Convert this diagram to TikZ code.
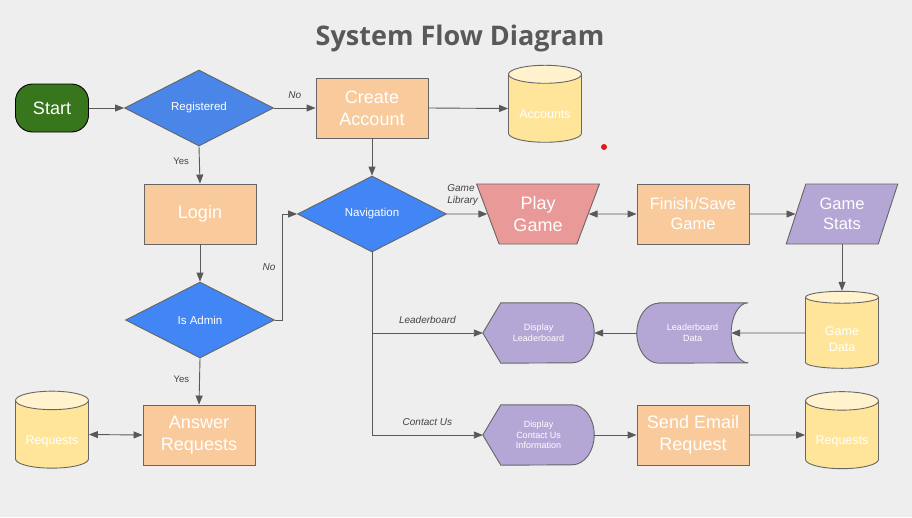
\documentclass[tikz,border=0pt]{standalone}
\usepackage{fontspec}
\setmainfont{Liberation Sans}
\newfontfamily\titlefont{Open Sans}
\usetikzlibrary{arrows.meta,shapes.geometric,backgrounds}

\definecolor{bgcol}{HTML}{EEEEEE}
\definecolor{startgreen}{HTML}{38761D}
\definecolor{regblue}{HTML}{4A86E8}
\definecolor{navblue}{HTML}{4285F4}
\definecolor{peach}{HTML}{F9CB9C}
\definecolor{dbyellow}{HTML}{FFE599}
\definecolor{dbtop}{HTML}{FFF2CC}
\definecolor{rose}{HTML}{EA9999}
\definecolor{lilac}{HTML}{B4A7D6}
\definecolor{edgecol}{HTML}{666666}
\definecolor{arrowcol}{HTML}{595959}
\definecolor{labelcol}{HTML}{434343}
\definecolor{titlecol}{HTML}{595959}
\definecolor{dotred}{HTML}{E8161B}

\begin{document}
\begin{tikzpicture}[x=1pt, y=-1pt,
  shapebase/.style={draw=edgecol, line width=0.9pt, text=white, align=center, inner sep=0pt},
  termbox/.style={shapebase, draw=black, fill=startgreen, rounded corners=17pt,
    minimum width=73pt, minimum height=48pt, font=\fontsize{18}{22}\selectfont},
  decision/.style={shapebase, diamond, fill=navblue, minimum width=149pt,
    minimum height=76pt, font=\fontsize{11.5}{14}\selectfont},
  procbox/.style={shapebase, rectangle, fill=peach, minimum width=112pt,
    minimum height=60pt, font=\fontsize{18}{22}\selectfont},
  store/.style={shapebase, cylinder, shape border rotate=90, aspect=0.35,
    cylinder uses custom fill, cylinder body fill=dbyellow, cylinder end fill=dbtop,
    minimum width=73pt, minimum height=77pt, text height=19pt, text depth=0pt,
    font=\fontsize{12.5}{16}\selectfont},
  playbox/.style={shapebase, trapezium, trapezium left angle=68, trapezium right angle=68,
    shape border rotate=180, trapezium stretches=true, fill=rose,
    minimum width=123pt, minimum height=60pt, font=\fontsize{18}{22}\selectfont},
  iobox/.style={shapebase, trapezium, trapezium left angle=69, trapezium right angle=111,
    trapezium stretches=true, fill=lilac,
    minimum width=112pt, minimum height=60pt, font=\fontsize{16.5}{20}\selectfont},
  smallbox/.style={text=white, align=center, inner sep=0pt, minimum width=111pt,
    minimum height=60pt, font=\fontsize{9}{10.5}\selectfont},
  purpshape/.style={draw=edgecol, line width=0.9pt, fill=lilac},
  flow/.style={draw=arrowcol, line width=0.9pt, -{Triangle[length=9pt,width=7pt]}},
  both/.style={flow, {Triangle[length=9pt,width=7pt]}-{Triangle[length=9pt,width=7pt]}},
  edgelabel/.style={text=labelcol, inner sep=0pt, font=\fontsize{10}{11.7}\selectfont\itshape},
  yeslabel/.style={text=labelcol, inner sep=0pt, font=\fontsize{9.5}{11}\selectfont},
]
  \useasboundingbox (0,0) rectangle (912,517);

  \node[font=\titlefont\bfseries\fontsize{27}{32}\selectfont, text=titlecol] (title) at (460,38) {System Flow Diagram};

  % first row
  \node[termbox] (start) at (52,108) {Start};
  \node[decision, fill=regblue] (reg) at (199,108) {Registered};
  \node[procbox] (create) at (372,108) {Create\\Account};
  \node[store] (accounts) at (545,108.5) {Accounts};

  % second row
  \node[procbox] (login) at (200,214) {Login};
  \node[decision] (nav) at (372,214) {Navigation};
  \node[playbox] (play) at (538,214) {Play\\Game};
  \node[procbox, font=\fontsize{16.5}{20}\selectfont] (finish) at (693,214) {Finish/Save\\Game};
  \node[iobox] (stats) at (842,214) {Game\\Stats};

  % third row
  \node[decision] (admin) at (200,320) {Is Admin};
  \node[smallbox] (dlead) at (538.5,333) {Display\\Leaderboard};
  \node[smallbox] (ldata) at (692.5,333) {Leaderboard\\Data};
  \node[store, text height=36pt] (gdata) at (842,333) {Game\\Data};

  % last row
  \node[store] (reqleft) at (52,434.5) {Requests};
  \node[procbox] (answer) at (199,435) {Answer\\Requests};
  \node[smallbox] (dcontact) at (538.5,435) {Display\\Contact Us\\Information};
  \node[procbox] (email) at (693,435) {Send Email\\Request};
  \node[store] (reqright) at (842,435) {Requests};

  \begin{scope}[on background layer]
    \fill[bgcol] (0,0) rectangle (912,517);
    \draw[purpshape] (dlead.west) -- ([shift={(18,0)}]dlead.north west)
      -- ([shift={(-22,0)}]dlead.north east) arc[start angle=-90, end angle=90, x radius=22, y radius=30]
      -- ([shift={(18,0)}]dlead.south west) -- cycle;
    \draw[purpshape] (dcontact.west) -- ([shift={(18,0)}]dcontact.north west)
      -- ([shift={(-22,0)}]dcontact.north east) arc[start angle=-90, end angle=90, x radius=22, y radius=30]
      -- ([shift={(18,0)}]dcontact.south west) -- cycle;
    \draw[purpshape] ([shift={(22,0)}]ldata.north west) -- (ldata.north east)
      arc[start angle=-90, end angle=-270, x radius=17, y radius=30]
      -- ([shift={(22,0)}]ldata.south west) arc[start angle=90, end angle=270, x radius=22, y radius=30]
      -- cycle;
  \end{scope}

  \fill[dotred] (604,147) circle[radius=3];

  % connectors
  \draw[flow] (start.east) -- (reg.west);
  \draw[flow] (reg.east) -- node[edgelabel, above=9pt] (nolbl) {No} (create.west);
  \draw[flow] (reg.south) -- node[yeslabel, left=10pt, pos=0.4] (yeslbl) {Yes} (login.north);
  \draw[flow] (create.east) -- (accounts.west);
  \draw[flow] (create.south) -- (nav.north);
  \draw[flow] (login.south) -- (admin.north);
  \draw[flow] (admin.east) -- ++(7,0) |- node[edgelabel, pos=0.25, left=6pt] (adminno) {No} (nav.west);
  \draw[flow] (admin.south) -- node[yeslabel, left=10pt, pos=0.45] (adminyes) {Yes} (answer.north);
  \draw[both] (reqleft.east) -- (answer.west);
  \draw[flow] (nav.east) -- node[edgelabel, pos=0, anchor=south west, align=left, yshift=8pt] (liblbl) {Game\\Library} (play.west);
  \draw[both] (play.east) -- (finish.west);
  \draw[flow] (finish.east) -- (stats.west);
  \draw[flow] (stats.south -| gdata.north) -- (gdata.north);
  \draw[flow] (gdata.west) -- ([shift={(-17,0)}]ldata.east);
  \draw[flow] (ldata.west) -- (dlead.east);
  \draw[flow] (nav.south) |- node[edgelabel, pos=0.75, above=9pt] (contactlbl) {Contact Us} (dcontact.west);
  \draw[flow] (nav.south |- dlead.west) -- node[edgelabel, above=9pt] (leadlbl) {Leaderboard} (dlead.west);
  \draw[flow] (dcontact.east) -- (email.west);
  \draw[flow] (email.east) -- (reqright.west);
\end{tikzpicture}
\end{document}
